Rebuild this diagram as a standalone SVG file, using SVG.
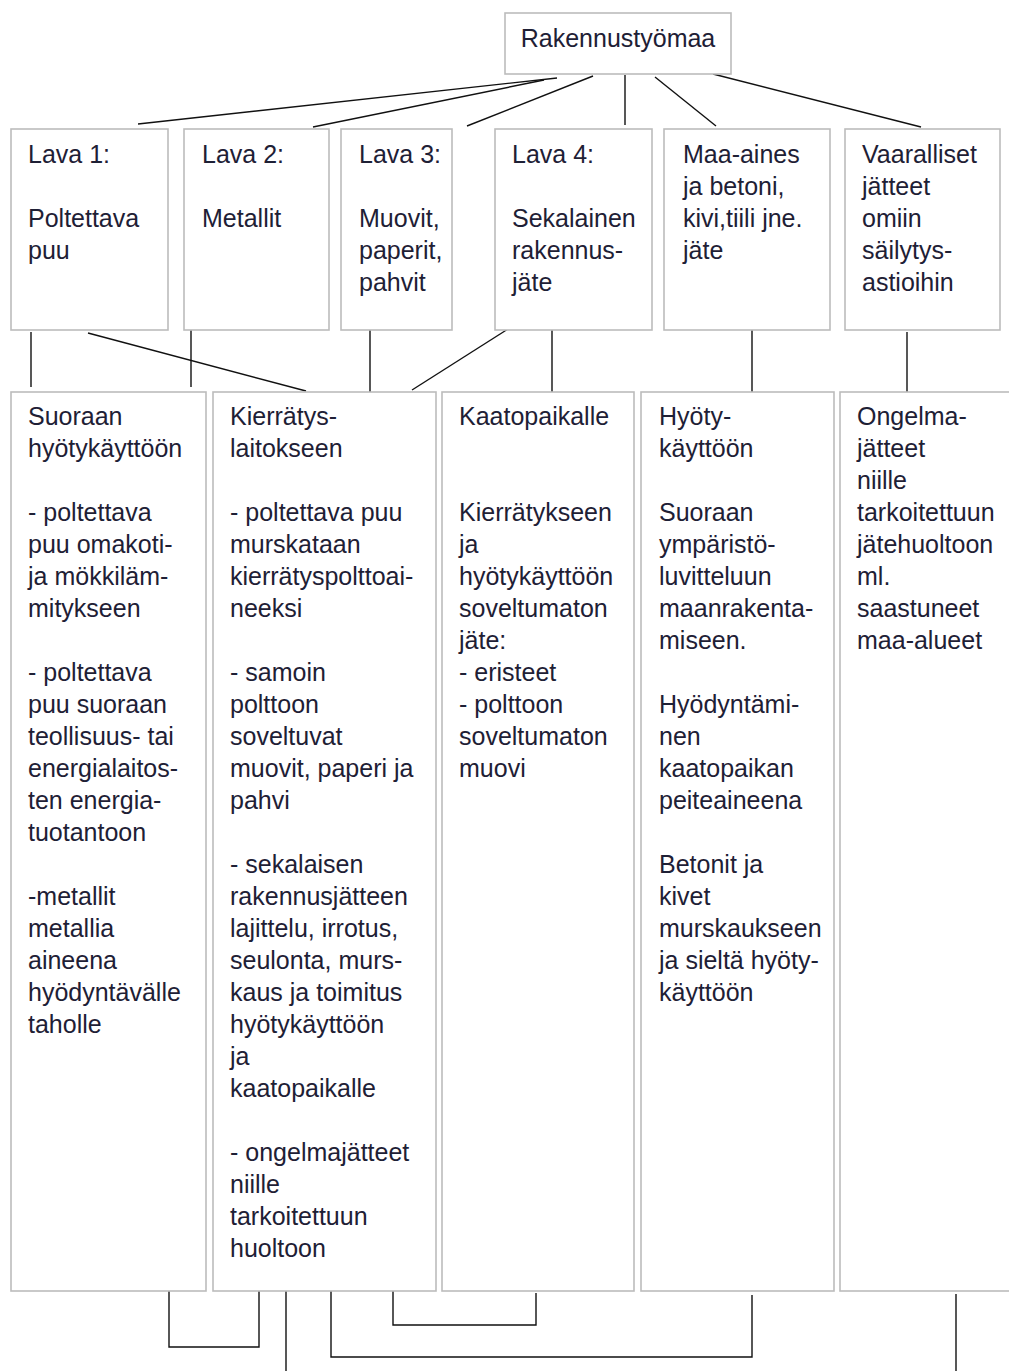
<svg xmlns="http://www.w3.org/2000/svg" width="1009" height="1371" viewBox="0 0 1009 1371">
<style>
.box{fill:#fff;stroke:#bcbcbc;stroke-width:1.6}
.t{font-family:"Liberation Sans",Arial,sans-serif;font-size:25px;fill:#1e2035}
.c{fill:none;stroke:#111;stroke-width:1.4}
</style>
<rect width="1009" height="1371" fill="#fff"/>
<g id="connectors">
<line class="c" x1="557" y1="78" x2="138" y2="124"/>
<line class="c" x1="544" y1="80" x2="313" y2="127"/>
<line class="c" x1="593" y1="76" x2="467" y2="126"/>
<line class="c" x1="625" y1="75" x2="625" y2="125"/>
<line class="c" x1="655" y1="77" x2="716" y2="126"/>
<line class="c" x1="713" y1="74" x2="921" y2="127"/>
<line class="c" x1="31" y1="332" x2="31" y2="387"/>
<line class="c" x1="88" y1="333" x2="306" y2="391"/>
<line class="c" x1="191" y1="328" x2="191" y2="387"/>
<line class="c" x1="370" y1="328" x2="370" y2="392"/>
<line class="c" x1="508" y1="329" x2="412" y2="390"/>
<line class="c" x1="552" y1="330" x2="552" y2="394"/>
<line class="c" x1="752" y1="330" x2="752" y2="392"/>
<line class="c" x1="907" y1="332" x2="907" y2="392"/>
<polyline class="c" points="169,1291 169,1347 259,1347 259,1291"/>
<line class="c" x1="286" y1="1291" x2="286" y2="1371"/>
<polyline class="c" points="331,1291 331,1357 752,1357 752,1295"/>
<polyline class="c" points="393,1291 393,1325 536,1325 536,1293"/>
<line class="c" x1="956" y1="1294" x2="956" y2="1371"/>
</g>
<g id="rakennustyomaa">
<rect class="box" x="505" y="13" width="226" height="61"/>
<text class="t" x="618" y="47" text-anchor="middle">Rakennustyömaa</text>
</g>
<g id="lava1">
<rect class="box" x="11" y="129" width="157" height="201"/>
<text class="t" x="28" y="163">Lava 1:</text>
<text class="t" x="28" y="227">Poltettava</text>
<text class="t" x="28" y="259">puu</text>
</g>
<g id="lava2">
<rect class="box" x="184" y="129" width="145" height="201"/>
<text class="t" x="202" y="163">Lava 2:</text>
<text class="t" x="202" y="227">Metallit</text>
</g>
<g id="lava3">
<rect class="box" x="341" y="129" width="111" height="201"/>
<text class="t" x="359" y="163">Lava 3:</text>
<text class="t" x="359" y="227">Muovit,</text>
<text class="t" x="359" y="259">paperit,</text>
<text class="t" x="359" y="291">pahvit</text>
</g>
<g id="lava4">
<rect class="box" x="495" y="129" width="157" height="201"/>
<text class="t" x="512" y="163">Lava 4:</text>
<text class="t" x="512" y="227">Sekalainen</text>
<text class="t" x="512" y="259">rakennus-</text>
<text class="t" x="512" y="291">jäte</text>
</g>
<g id="maa-aines">
<rect class="box" x="664" y="129" width="166" height="201"/>
<text class="t" x="683" y="163">Maa-aines</text>
<text class="t" x="683" y="195">ja betoni,</text>
<text class="t" x="683" y="227">kivi,tiili jne.</text>
<text class="t" x="683" y="259">jäte</text>
</g>
<g id="vaaralliset">
<rect class="box" x="845" y="129" width="155" height="201"/>
<text class="t" x="862" y="163">Vaaralliset</text>
<text class="t" x="862" y="195">jätteet</text>
<text class="t" x="862" y="227">omiin</text>
<text class="t" x="862" y="259">säilytys-</text>
<text class="t" x="862" y="291">astioihin</text>
</g>
<g id="suoraan">
<rect class="box" x="11" y="392" width="195" height="899"/>
<text class="t" x="28" y="425">Suoraan</text>
<text class="t" x="28" y="457">hyötykäyttöön</text>
<text class="t" x="28" y="521">- poltettava</text>
<text class="t" x="28" y="553">puu omakoti-</text>
<text class="t" x="28" y="585">ja mökkiläm-</text>
<text class="t" x="28" y="617">mitykseen</text>
<text class="t" x="28" y="681">- poltettava</text>
<text class="t" x="28" y="713">puu suoraan</text>
<text class="t" x="28" y="745">teollisuus- tai</text>
<text class="t" x="28" y="777">energialaitos-</text>
<text class="t" x="28" y="809">ten energia-</text>
<text class="t" x="28" y="841">tuotantoon</text>
<text class="t" x="28" y="905">-metallit</text>
<text class="t" x="28" y="937">metallia</text>
<text class="t" x="28" y="969">aineena</text>
<text class="t" x="28" y="1001">hyödyntävälle</text>
<text class="t" x="28" y="1033">taholle</text>
</g>
<g id="kierratyslaitokseen">
<rect class="box" x="213" y="392" width="223" height="899"/>
<text class="t" x="230" y="425">Kierrätys-</text>
<text class="t" x="230" y="457">laitokseen</text>
<text class="t" x="230" y="521">- poltettava puu</text>
<text class="t" x="230" y="553">murskataan</text>
<text class="t" x="230" y="585">kierrätyspolttoai-</text>
<text class="t" x="230" y="617">neeksi</text>
<text class="t" x="230" y="681">- samoin</text>
<text class="t" x="230" y="713">polttoon</text>
<text class="t" x="230" y="745">soveltuvat</text>
<text class="t" x="230" y="777">muovit, paperi ja</text>
<text class="t" x="230" y="809">pahvi</text>
<text class="t" x="230" y="873">- sekalaisen</text>
<text class="t" x="230" y="905">rakennusjätteen</text>
<text class="t" x="230" y="937">lajittelu, irrotus,</text>
<text class="t" x="230" y="969">seulonta, murs-</text>
<text class="t" x="230" y="1001">kaus ja toimitus</text>
<text class="t" x="230" y="1033">hyötykäyttöön</text>
<text class="t" x="230" y="1065">ja</text>
<text class="t" x="230" y="1097">kaatopaikalle</text>
<text class="t" x="230" y="1161">- ongelmajätteet</text>
<text class="t" x="230" y="1193">niille</text>
<text class="t" x="230" y="1225">tarkoitettuun</text>
<text class="t" x="230" y="1257">huoltoon</text>
</g>
<g id="kaatopaikalle">
<rect class="box" x="442" y="392" width="192" height="899"/>
<text class="t" x="459" y="425">Kaatopaikalle</text>
<text class="t" x="459" y="521">Kierrätykseen</text>
<text class="t" x="459" y="553">ja</text>
<text class="t" x="459" y="585">hyötykäyttöön</text>
<text class="t" x="459" y="617">soveltumaton</text>
<text class="t" x="459" y="649">jäte:</text>
<text class="t" x="459" y="681">- eristeet</text>
<text class="t" x="459" y="713">- polttoon</text>
<text class="t" x="459" y="745">soveltumaton</text>
<text class="t" x="459" y="777">muovi</text>
</g>
<g id="hyotykayttoon">
<rect class="box" x="641" y="392" width="193" height="899"/>
<text class="t" x="659" y="425">Hyöty-</text>
<text class="t" x="659" y="457">käyttöön</text>
<text class="t" x="659" y="521">Suoraan</text>
<text class="t" x="659" y="553">ympäristö-</text>
<text class="t" x="659" y="585">luvitteluun</text>
<text class="t" x="659" y="617">maanrakenta-</text>
<text class="t" x="659" y="649">miseen.</text>
<text class="t" x="659" y="713">Hyödyntämi-</text>
<text class="t" x="659" y="745">nen</text>
<text class="t" x="659" y="777">kaatopaikan</text>
<text class="t" x="659" y="809">peiteaineena</text>
<text class="t" x="659" y="873">Betonit ja</text>
<text class="t" x="659" y="905">kivet</text>
<text class="t" x="659" y="937">murskaukseen</text>
<text class="t" x="659" y="969">ja sieltä hyöty-</text>
<text class="t" x="659" y="1001">käyttöön</text>
</g>
<g id="ongelmajatteet">
<rect class="box" x="840" y="392" width="200" height="899"/>
<text class="t" x="857" y="425">Ongelma-</text>
<text class="t" x="857" y="457">jätteet</text>
<text class="t" x="857" y="489">niille</text>
<text class="t" x="857" y="521">tarkoitettuun</text>
<text class="t" x="857" y="553">jätehuoltoon</text>
<text class="t" x="857" y="585">ml.</text>
<text class="t" x="857" y="617">saastuneet</text>
<text class="t" x="857" y="649">maa-alueet</text>
</g>
</svg>
